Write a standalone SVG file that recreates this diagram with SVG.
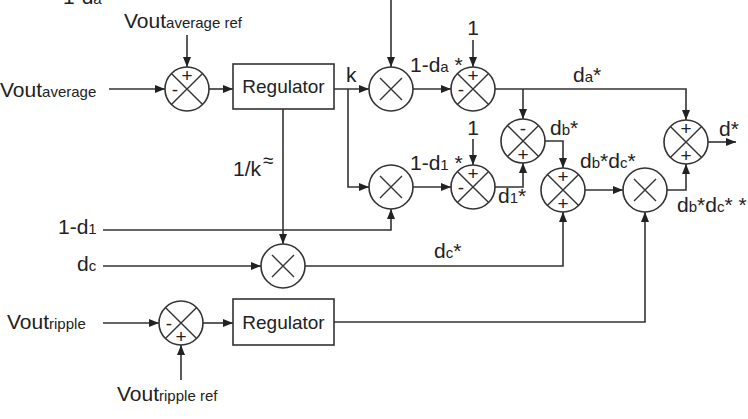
<svg xmlns="http://www.w3.org/2000/svg" width="748" height="419" viewBox="0 0 748 419">
<defs>
<marker id="ah" markerWidth="10" markerHeight="8" refX="10" refY="4" orient="auto" markerUnits="userSpaceOnUse">
<path d="M0,0 L10,4 L0,8 Z" fill="#222"/>
</marker>
<style>
.ln{fill:none;stroke:#333;stroke-width:1.6}
.ar{fill:none;stroke:#333;stroke-width:1.6;marker-end:url(#ah)}
.cir{fill:#fff;stroke:#333;stroke-width:1.6}
.box{fill:#fff;stroke:#333;stroke-width:1.6}
.x{stroke:#333;stroke-width:1.4}
.t{font-family:"Liberation Sans",Arial,sans-serif;font-size:21px;fill:#222}
.s{font-size:15px}
.sg{font-family:"Liberation Sans",Arial,sans-serif;font-size:19px;fill:#222;text-anchor:middle}
.rg{font-family:"Liberation Sans",Arial,sans-serif;font-size:19px;fill:#222;text-anchor:middle}
</style>
</defs>
<rect width="748" height="419" fill="#fff"/>

<g id="connectors">
<path class="ar" d="M109,89 H165"/>
<path class="ar" d="M187,35 V67"/>
<path class="ar" d="M209,89 H233"/>
<path class="ar" d="M334,89 H369"/>
<path class="ar" d="M348,89 V187 H369"/>
<path class="ar" d="M391,0 V67"/>
<path class="ar" d="M413,89 H451"/>
<path class="ar" d="M473,40 V67"/>
<path class="ar" d="M413,187 H451"/>
<path class="ar" d="M473,139 V165"/>
<path class="ar" d="M495,89 H686 V120"/>
<path class="ar" d="M523,89 V119"/>
<path class="ar" d="M495,187 H523 V163"/>
<path class="ar" d="M545,141 H563 V168"/>
<path class="ar" d="M585,190 H623"/>
<path class="ar" d="M667,190 H686 V164"/>
<path class="ar" d="M708,142 H736"/>
<path class="ar" d="M103,230 H391 V209"/>
<path class="ar" d="M103,266 H261"/>
<path class="ar" d="M283,109 V244"/>
<path class="ar" d="M305,266 H563 V212"/>
<path class="ar" d="M103,323 H159"/>
<path class="ar" d="M181,380 V345"/>
<path class="ar" d="M203,323 H233"/>
<path class="ar" d="M334,322 H645 V212"/>
</g>

<g id="sum-avg">
<circle class="cir" cx="187" cy="89" r="22"/>
<path class="x" d="M171.4,73.4 L202.6,104.6 M202.6,73.4 L171.4,104.6"/>
<text class="sg" x="187" y="82">+</text>
<text class="sg" x="175" y="96">-</text>
</g>

<g id="regulator-avg">
<rect class="box" x="233" y="64" width="101" height="45"/>
<text class="rg" x="283.5" y="93">Regulator</text>
</g>

<g id="mult-1">
<circle class="cir" cx="391" cy="89" r="22"/>
<path class="x" d="M380,78 L402,100 M402,78 L380,100"/>
</g>

<g id="mult-2">
<circle class="cir" cx="391" cy="187" r="22"/>
<path class="x" d="M380,176 L402,198 M402,176 L380,198"/>
</g>

<g id="sum-a">
<circle class="cir" cx="473" cy="89" r="22"/>
<path class="x" d="M457.4,73.4 L488.6,104.6 M488.6,73.4 L457.4,104.6"/>
<text class="sg" x="473" y="82">+</text>
<text class="sg" x="461" y="96">-</text>
</g>

<g id="sum-b">
<circle class="cir" cx="473" cy="187" r="22"/>
<path class="x" d="M457.4,171.4 L488.6,202.6 M488.6,171.4 L457.4,202.6"/>
<text class="sg" x="473" y="180">+</text>
<text class="sg" x="461" y="194">-</text>
</g>

<g id="sum-c">
<circle class="cir" cx="523" cy="141" r="22"/>
<path class="x" d="M507.4,125.4 L538.6,156.6 M538.6,125.4 L507.4,156.6"/>
<text class="sg" x="523" y="135">-</text>
<text class="sg" x="523" y="161">+</text>
</g>

<g id="sum-e">
<circle class="cir" cx="563" cy="190" r="22"/>
<path class="x" d="M547.4,174.4 L578.6,205.6 M578.6,174.4 L547.4,205.6"/>
<text class="sg" x="563" y="183">+</text>
<text class="sg" x="563" y="210">+</text>
</g>

<g id="mult-f">
<circle class="cir" cx="645" cy="190" r="22"/>
<path class="x" d="M634,179 L656,201 M656,179 L634,201"/>
</g>

<g id="sum-d">
<circle class="cir" cx="686" cy="142" r="22"/>
<path class="x" d="M670.4,126.4 L701.6,157.6 M701.6,126.4 L670.4,157.6"/>
<text class="sg" x="686" y="135">+</text>
<text class="sg" x="686" y="162">+</text>
</g>

<g id="mult-g">
<circle class="cir" cx="283" cy="266" r="22"/>
<path class="x" d="M272,255 L294,277 M294,255 L272,277"/>
</g>

<g id="sum-ripple">
<circle class="cir" cx="181" cy="323" r="22"/>
<path class="x" d="M165.4,307.4 L196.6,338.6 M196.6,307.4 L165.4,338.6"/>
<text class="sg" x="169" y="330">-</text>
<text class="sg" x="181" y="343">+</text>
</g>

<g id="regulator-ripple">
<rect class="box" x="233" y="299" width="101" height="46"/>
<text class="rg" x="283.5" y="329">Regulator</text>
</g>

<g id="labels">
<text class="t" x="63" y="4">1-d<tspan class="s">a</tspan></text>
<text class="t" x="124" y="28">Vout<tspan class="s">average ref</tspan></text>
<text class="t" x="0" y="97">Vout<tspan class="s">average</tspan></text>
<text class="t" x="346" y="82">k</text>
<text class="t" x="410" y="72">1-d<tspan class="s">a</tspan> *</text>
<text class="t" x="473" y="35" text-anchor="middle">1</text>
<text class="t" x="473" y="135" text-anchor="middle">1</text>
<text class="t" x="410" y="170">1-d<tspan class="s">1</tspan> *</text>
<text class="t" x="573" y="82">d<tspan class="s">a</tspan>*</text>
<text class="t" x="550" y="135">d<tspan class="s">b</tspan>*</text>
<text class="t" x="498" y="203">d<tspan class="s">1</tspan>*</text>
<text class="t" x="580" y="168">d<tspan class="s">b</tspan>*d<tspan class="s">c</tspan>*</text>
<text class="t" x="719" y="136">d*</text>
<text class="t" x="677" y="212">d<tspan class="s">b</tspan>*d<tspan class="s">c</tspan>* *</text>
<text class="t" x="233" y="176">1/k</text>
<text class="t" x="263" y="167" style="font-size:19px">≈</text>
<text class="t" x="58" y="234">1-d<tspan class="s">1</tspan></text>
<text class="t" x="77" y="271">d<tspan class="s">c</tspan></text>
<text class="t" x="434" y="258">d<tspan class="s">c</tspan>*</text>
<text class="t" x="7" y="329">Vout<tspan class="s">ripple</tspan></text>
<text class="t" x="117" y="401">Vout<tspan class="s">ripple ref</tspan></text>
</g>
</svg>
